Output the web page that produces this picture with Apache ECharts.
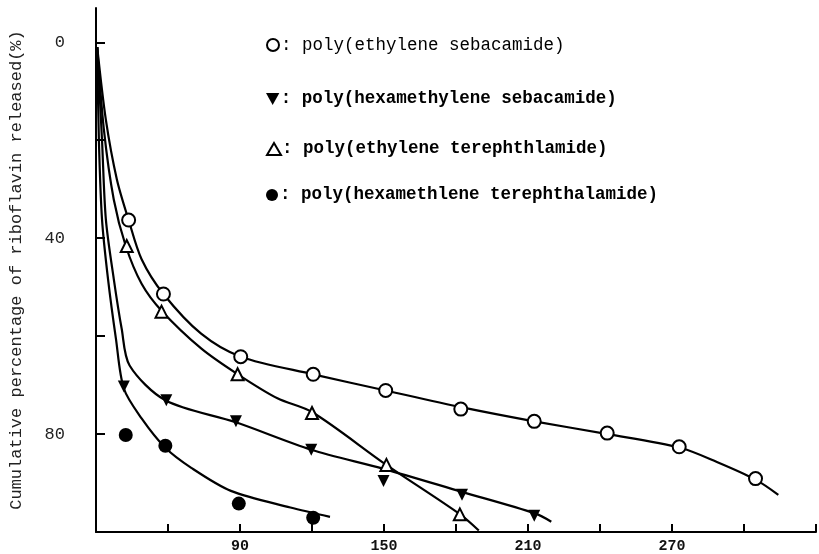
<!DOCTYPE html>
<html>
<head>
<meta charset="utf-8">
<script src="https://cdn.jsdelivr.net/npm/echarts@6/dist/echarts.min.js"></script>
<style>
html,body{margin:0;padding:0;background:#fff;}
#chart{width:819px;height:554px;}
</style>
</head>
<body>
<div id="chart"></div>
<script>
// ---- data ----
const seriesNames = [
  'poly(ethylene sebacamide)',
  'poly(hexamethylene sebacamide)',
  'poly(ethylene terephthlamide)',
  'poly(hexamethlene terephthalamide)'
];
const xLabelValues = [90, 150, 210, 270];
const yTickValues = [0, 20, 40, 60, 80];
const yLabelValues = [0, 40, 80];
const yAxisTitle = 'Cumulative percentage of riboflavin released(%)';

// measured points (x, cumulative %)
const esPoints = [[43.6,36.3],[58.1,51.4],[90.3,64.2],[120.5,67.8],[150.7,71.1],[182,74.9],[212.6,77.4],[243,79.8],[273,82.6],[304.8,89.1]];
const hsPoints = [[41.6,70.3],[59.3,73.1],[88.3,77.4],[119.7,83.2],[149.8,89.6],[182.5,92.4],[212.6,96.7]];
const etPoints = [[42.8,41.6],[57.3,55],[89,67.8],[120,75.7],[151,86.3],[181.6,96.4]];
const htPoints = [[42.4,80.2],[58.9,82.4],[89.5,94.2],[120.5,97.1]];

// fitted curves as drawn in the reference
const esCurve = [[30.5,1],[34.1,15.8],[38.7,28],[43.6,36.3],[49,44.3],[58.1,51.4],[73.8,59.5],[90.3,64.2],[120.5,67.8],[150.7,71.1],[182.1,74.5],[212.6,77.4],[243.2,80],[273.4,82.8],[288.7,85.7],[304.8,89.3],[314.3,92.4]];
const hsCurve = [[30.5,1],[32.5,19.9],[34.1,36.1],[37.4,48.3],[40.7,58.5],[44,66],[58.9,73.1],[88.3,77.6],[119.7,83.2],[149.8,87.1],[182.5,91.8],[213,96.2],[219.7,97.9]];
const etCurve = [[30.5,1],[33.3,17.9],[37.4,32.1],[42.4,41.6],[49,49.3],[57.3,54.8],[73.8,62.5],[89.1,67.8],[105.6,72.7],[120,75.5],[151,86.3],[181.7,96.4],[189.5,99.7]];
const htCurve = [[30.5,1],[31.2,19.9],[32.5,36.1],[35,48.3],[38.3,60.5],[41.6,70.7],[49,76.8],[58.9,82.8],[69.7,86.9],[86.2,91.6],[111,95],[127.5,96.9]];

const downTri = 'path://M0,0 L10,0 L5,9 Z';
const symbols = ['circle', downTri, 'triangle', 'circle'];
const hollow = [true, false, true, false];
const symbolSizes = [13, 12, 12, 14];
const pointSets = [esPoints, hsPoints, etPoints, htPoints];
const curveSets = [esCurve, hsCurve, etCurve, htCurve];
const legendTops = [31, 85, 135, 181];

const FONT = '"Liberation Mono", "DejaVu Sans Mono", monospace';

const markStyle = i => hollow[i]
  ? {color: '#fff', borderColor: '#000', borderWidth: 2, opacity: 1}
  : {color: '#000', borderWidth: 0, opacity: 1};

const series = [];
curveSets.forEach((c, i) => {
  series.push({
    name: 'curve' + i,
    type: 'line',
    data: c,
    smooth: 0.3,
    showSymbol: false,
    silent: true,
    lineStyle: {color: '#000', width: 2.2},
    z: 2
  });
});
pointSets.forEach((p, i) => {
  series.push({
    name: seriesNames[i],
    type: 'scatter',
    data: p,
    symbol: symbols[i],
    symbolSize: symbolSizes[i],
    itemStyle: markStyle(i),
    z: 5
  });
});

const legends = seriesNames.map((n, i) => ({
  data: [n],
  icon: symbols[i],
  left: 261,
  top: legendTops[i],
  itemWidth: 14,
  itemHeight: 12,
  itemStyle: markStyle(i),
  selectedMode: false,
  formatter: name => ': ' + name,
  textStyle: {fontFamily: FONT, fontSize: 17.5, color: '#000', fontWeight: i === 0 ? 'normal' : 'bold', padding: [0,0,0,-4]}
}));

const chart = echarts.init(document.getElementById('chart'), null, {renderer: 'canvas'});
chart.setOption({
  animation: false,
  backgroundColor: '#fff',
  grid: {left: 94, right: 0, top: 8, bottom: 21, containLabel: false},
  legend: legends,
  xAxis: {
    type: 'value',
    position: 'bottom',
    min: 30, max: 330, interval: 30,
    axisLine: {onZero: false, lineStyle: {color: '#000', width: 2}},
    axisTick: {inside: true, length: 8, lineStyle: {color: '#000', width: 2}},
    splitLine: {show: false},
    axisLabel: {
      margin: 7,
      fontFamily: FONT, fontSize: 15, fontWeight: 'bold', color: '#111',
      formatter: v => xLabelValues.includes(v) ? String(v) : ''
    }
  },
  yAxis: {
    type: 'value',
    inverse: true,
    min: -7, max: 100,
    axisLine: {show: true, onZero: false, lineStyle: {color: '#000', width: 2}},
    axisTick: {show: true, inside: true, length: 9, customValues: yTickValues, lineStyle: {color: '#000', width: 2}},
    splitLine: {show: false},
    axisLabel: {margin: 31, customValues: yLabelValues, fontFamily: FONT, fontSize: 17, color: '#222'},
    name: yAxisTitle,
    nameLocation: 'middle',
    nameGap: 71,
    nameTextStyle: {fontFamily: FONT, fontSize: 17, color: '#222'}
  },
  series: series
});
</script>
</body>
</html>
